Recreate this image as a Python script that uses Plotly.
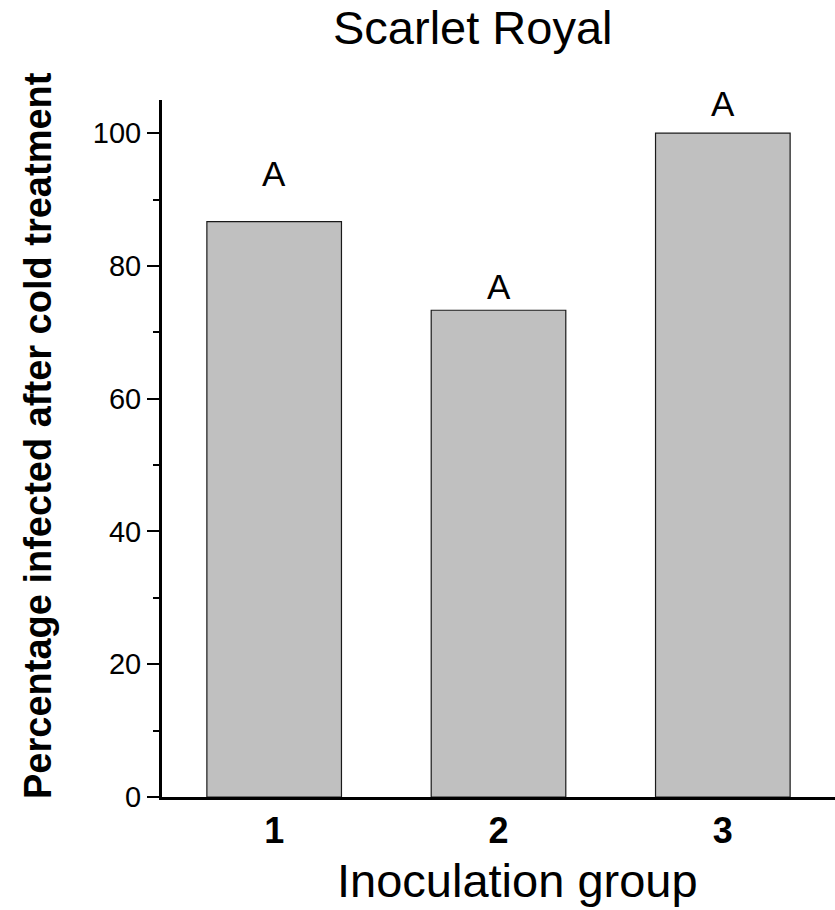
import plotly.graph_objects as go

groups = [1, 2, 3]
pct_infected = [86.67, 73.33, 100.0]
letters = ["A", "A", "A"]
letter_y = [93.9, 76.9, 104.5]
y_ticks = [0, 20, 40, 60, 80, 100]

FONT = "Liberation Sans, Arial"

fig = go.Figure()
fig.add_trace(go.Bar(
    x=groups, y=pct_infected, width=0.6,
    marker=dict(color="#C0C0C0", line=dict(color="#1a1a1a", width=1.2)),
    showlegend=False,
))

for g, l, yy in zip(groups, letters, letter_y):
    fig.add_annotation(x=g, y=yy, text=l, showarrow=False, xref="x", yref="y",
                       yanchor="middle", font=dict(family=FONT, size=35, color="black"))

# title
fig.add_annotation(x=(473 - 162) / 673, y=(797 - 27) / 697, xref="paper", yref="paper",
                   text="Scarlet Royal", showarrow=False, xanchor="center", yanchor="middle",
                   font=dict(family=FONT, size=47, color="black"))
# x axis title
fig.add_annotation(x=(517 - 162) / 673, y=(797 - 880) / 697, xref="paper", yref="paper",
                   text="Inoculation group", showarrow=False, xanchor="center", yanchor="middle",
                   font=dict(family=FONT, size=47, color="black"))
# y axis title
fig.add_annotation(x=(38 - 162) / 673, y=(797 - 436) / 697, xref="paper", yref="paper",
                   text="<b>Percentage infected after cold treatment</b>", textangle=-90,
                   showarrow=False, xanchor="center", yanchor="middle",
                   font=dict(family=FONT, size=38, color="black"))

fig.update_layout(
    width=835, height=910,
    margin=dict(l=162, r=0, t=100, b=113),
    paper_bgcolor="white", plot_bgcolor="white",
    font=dict(family=FONT, color="black"),
    xaxis=dict(
        range=[0.5, 3.5], tickvals=groups, ticktext=["<b>%d</b>" % g for g in groups],
        showline=True, linecolor="black", linewidth=3, ticks="", showgrid=False, zeroline=False,
        tickfont=dict(size=36, family=FONT),
    ),
    yaxis=dict(
        range=[0, 105], tickvals=y_ticks, showline=True, linecolor="black", linewidth=3,
        ticks="outside", ticklen=12, tickwidth=2, tickcolor="black",
        minor=dict(ticks="outside", ticklen=6, tickwidth=2, tickcolor="black", dtick=10, showgrid=False),
        showgrid=False, zeroline=False,
        tickfont=dict(size=29, family=FONT),
    ),
)

fig.write_html("out.html")
